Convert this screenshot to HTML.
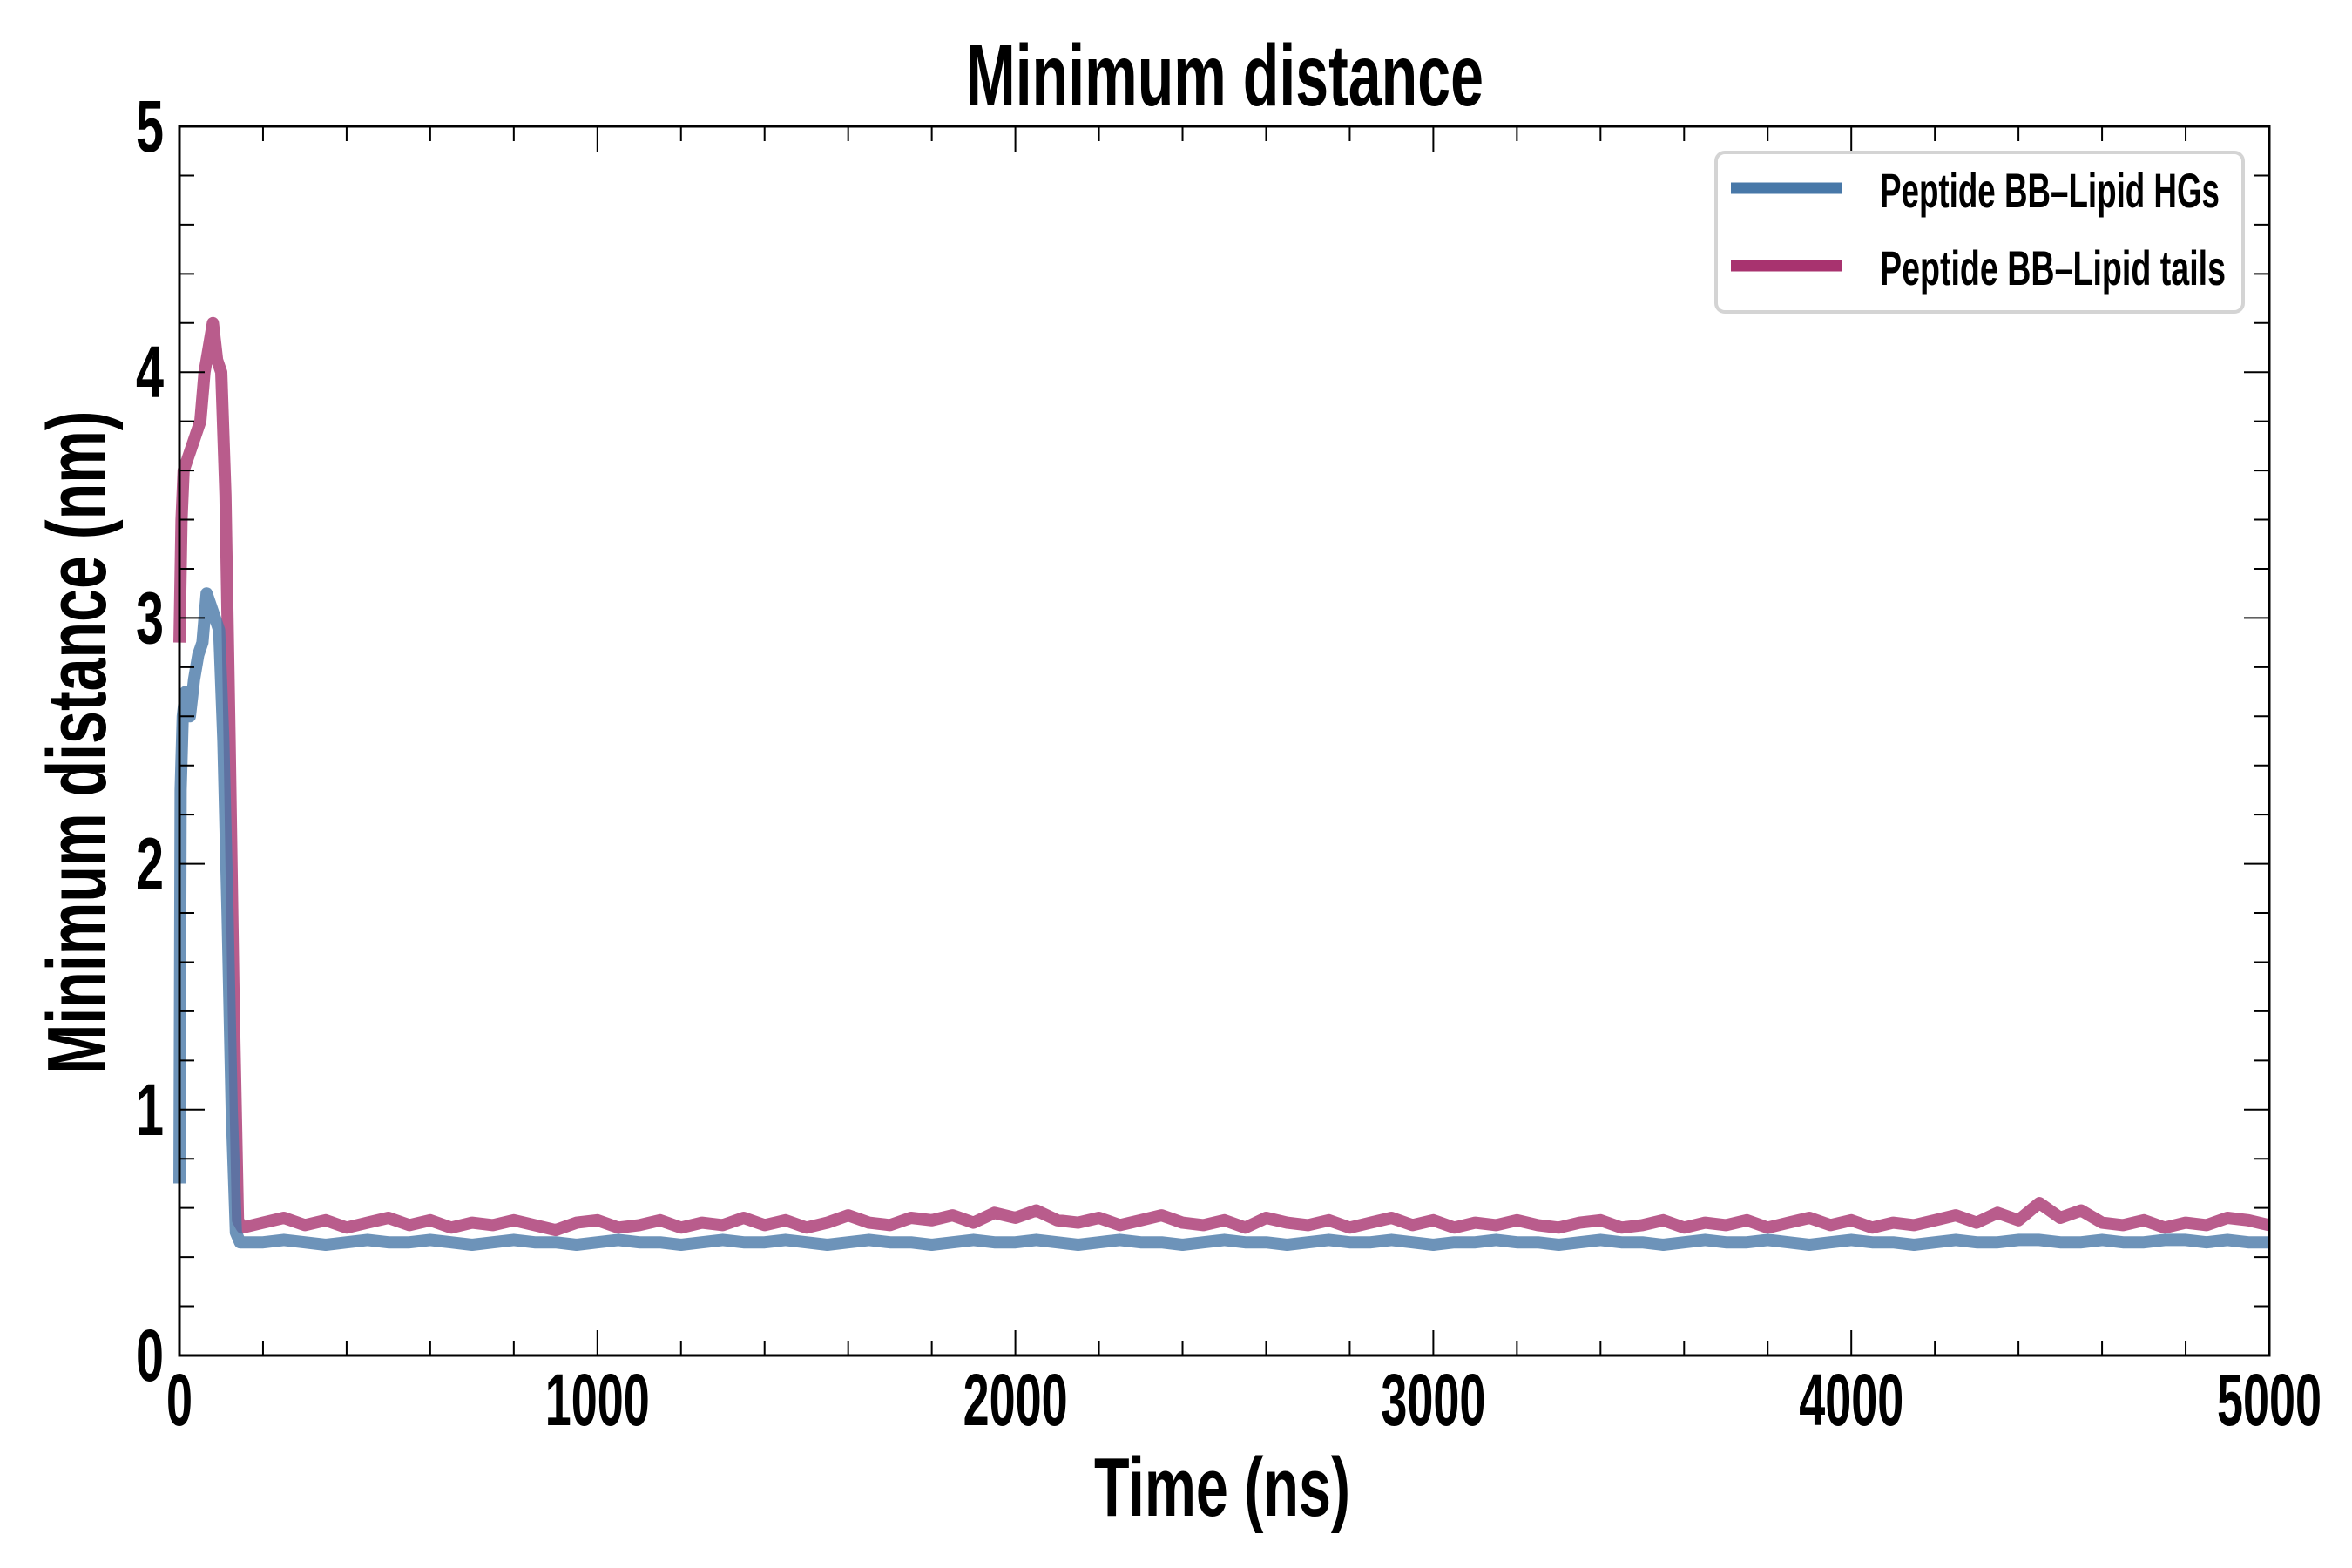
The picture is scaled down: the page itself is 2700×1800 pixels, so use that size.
<!DOCTYPE html>
<html><head><meta charset="utf-8"><style>
html,body{margin:0;padding:0;background:#fff;}
svg{display:block;}
text{font-family:"Liberation Sans Narrow","Liberation Sans",sans-serif;font-weight:bold;fill:#000;}
</style></head><body>
<svg id="chart" width="2700" height="1800" viewBox="0 0 2700 1800" xmlns="http://www.w3.org/2000/svg">
<rect x="0" y="0" width="2700" height="1800" fill="#fff"/>
<text x="1406" y="121" font-size="100" text-anchor="middle" textLength="594" lengthAdjust="spacingAndGlyphs">Minimum distance</text>
<text x="1403" y="1740" font-size="96" text-anchor="middle" textLength="294" lengthAdjust="spacingAndGlyphs">Time (ns)</text>
<text transform="translate(121,852) rotate(-90)" font-size="96" text-anchor="middle" textLength="761" lengthAdjust="spacingAndGlyphs">Minimum distance (nm)</text>
<g id="series"></g>
<g id="axes"></g>
<g>
<rect x="1970" y="175" width="605" height="183" rx="10" fill="#fff" fill-opacity="0.9" stroke="#d4d4d4" stroke-width="4"/>
<line x1="1987" y1="216" x2="2115" y2="216" stroke="#4878a8" stroke-width="13"/>
<text x="2158" y="238" font-size="56" textLength="390" lengthAdjust="spacingAndGlyphs">Peptide BB–Lipid HGs</text>
<line x1="1987" y1="305" x2="2115" y2="305" stroke="#a8336f" stroke-width="13"/>
<text x="2158" y="327" font-size="56" textLength="397" lengthAdjust="spacingAndGlyphs">Peptide BB–Lipid tails</text>
</g>
</svg>
<script>
const xTicks=[0,1000,2000,3000,4000,5000];
const yTicks=[0,1,2,3,4,5];
const earlyT_tails=[0,5,10,20,30,40,50,60,70,80,90,100,110,120,130,140,150];
const earlyV_tails=[2.9,3.4,3.6,3.65,3.7,3.75,3.8,4.0,4.1,4.2,4.05,4.0,3.5,2.5,1.4,0.55,0.52];
const earlyT_hgs=[0,3,8,15,25,35,45,55,65,75,85,95,105,115,125,135,145];
const earlyV_hgs=[0.7,2.3,2.6,2.7,2.6,2.75,2.85,2.9,3.1,3.05,3.0,2.95,2.5,1.8,1.0,0.5,0.46];
const lateStart=200, lateStep=50;
const lateTails=[0.54,0.56,0.53,0.55,0.52,0.54,0.56,0.53,0.55,0.52,0.54,0.53,0.55,0.53,0.51,0.54,0.55,0.52,0.53,0.55,0.52,0.54,0.53,0.56,0.53,0.55,0.52,0.54,0.57,0.54,0.53,0.56,0.55,0.57,0.54,0.58,0.56,0.59,0.55,0.54,0.56,0.53,0.55,0.57,0.54,0.53,0.55,0.52,0.56,0.54,0.53,0.55,0.52,0.54,0.56,0.53,0.55,0.52,0.54,0.53,0.55,0.53,0.52,0.54,0.55,0.52,0.53,0.55,0.52,0.54,0.53,0.55,0.52,0.54,0.56,0.53,0.55,0.52,0.54,0.53,0.55,0.57,0.54,0.58,0.55,0.62,0.56,0.59,0.54,0.53,0.55,0.52,0.54,0.53,0.56,0.55,0.53];
const lateHgs=[0.46,0.47,0.46,0.45,0.46,0.47,0.46,0.46,0.47,0.46,0.45,0.46,0.47,0.46,0.46,0.45,0.46,0.47,0.46,0.46,0.45,0.46,0.47,0.46,0.46,0.47,0.46,0.45,0.46,0.47,0.46,0.46,0.45,0.46,0.47,0.46,0.46,0.47,0.46,0.45,0.46,0.47,0.46,0.46,0.45,0.46,0.47,0.46,0.46,0.45,0.46,0.47,0.46,0.46,0.47,0.46,0.45,0.46,0.46,0.47,0.46,0.46,0.45,0.46,0.47,0.46,0.46,0.45,0.46,0.47,0.46,0.46,0.47,0.46,0.45,0.46,0.47,0.46,0.46,0.45,0.46,0.47,0.46,0.46,0.47,0.47,0.46,0.46,0.47,0.46,0.46,0.47,0.47,0.46,0.47,0.46,0.46];
const L=206,R=2605,T=145,B=1556,XMAX=5000,YMAX=5;
const NS='http://www.w3.org/2000/svg';
function xs(t){return L+t/XMAX*(R-L);}
function ys(v){return B-v/YMAX*(B-T);}
function mk(tag,attrs,parent){const e=document.createElementNS(NS,tag);for(const k in attrs)e.setAttribute(k,attrs[k]);parent.appendChild(e);return e;}
const series=document.getElementById('series');
const axes=document.getElementById('axes');
function buildPts(et,ev,late){const p=[];for(let i=0;i<et.length;i++)p.push([et[i],ev[i]]);for(let i=0;i<late.length;i++)p.push([lateStart+i*lateStep,late[i]]);return p.map(q=>xs(q[0]).toFixed(1)+','+ys(q[1]).toFixed(1)).join(' ');}
const lt=mk('polyline',{points:buildPts(earlyT_tails,earlyV_tails,lateTails),fill:'none',stroke:'#a8336f','stroke-opacity':'0.8','stroke-width':'14','stroke-linejoin':'round'},series);


const lh=mk('polyline',{points:buildPts(earlyT_hgs,earlyV_hgs,lateHgs),fill:'none',stroke:'#4878a8','stroke-opacity':'0.8','stroke-width':'14','stroke-linejoin':'round'},series);


for(let t=0;t<=XMAX;t+=200){const major=t%1000===0;const len=major?29:17;const x=xs(t);
 mk('line',{x1:x,y1:B,x2:x,y2:B-len,stroke:'#000','stroke-width':2},axes);
 mk('line',{x1:x,y1:T,x2:x,y2:T+len,stroke:'#000','stroke-width':2},axes);}
for(let i=0;i<=25;i++){const v=i*0.2;const major=i%5===0;const len=major?29:17;const y=ys(v);
 mk('line',{x1:L,y1:y,x2:L+len,y2:y,stroke:'#000','stroke-width':2},axes);
 mk('line',{x1:R,y1:y,x2:R-len,y2:y,stroke:'#000','stroke-width':2},axes);}
const fr=mk('rect',{x:L,y:T,width:R-L,height:B-T,fill:'none',stroke:'#000','stroke-width':3},axes);


xTicks.forEach(t=>{const s=String(t);const e=mk('text',{x:xs(t),y:1636,'font-size':84,'text-anchor':'middle',textLength:30*s.length,lengthAdjust:'spacingAndGlyphs'},axes);e.textContent=s;
 
 });
yTicks.forEach(v=>{const e=mk('text',{x:188,y:ys(v)+29,'font-size':84,'text-anchor':'end',textLength:32,lengthAdjust:'spacingAndGlyphs'},axes);e.textContent=String(v);
 
 });
</script>
</body></html>
